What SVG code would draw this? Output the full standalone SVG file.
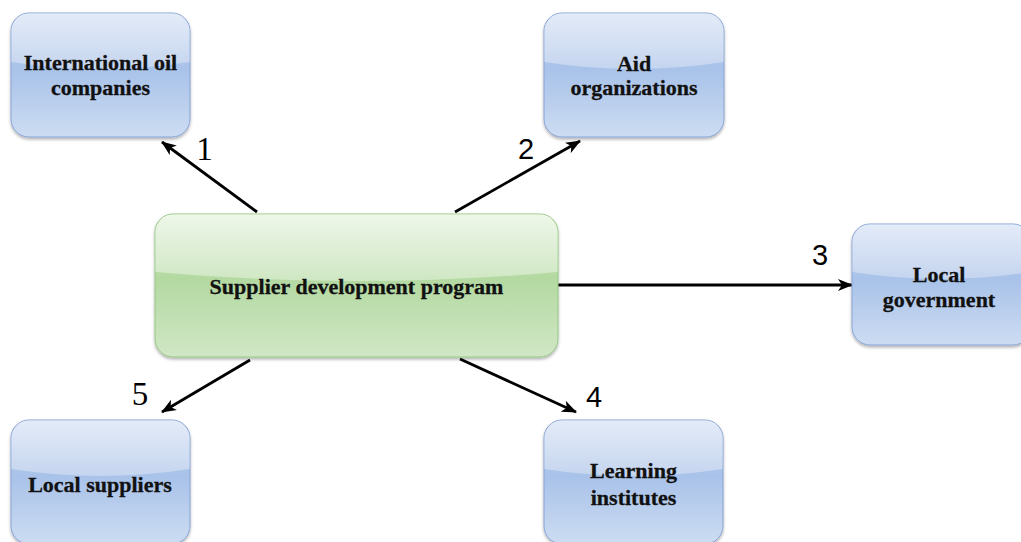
<svg xmlns="http://www.w3.org/2000/svg" width="1021" height="542" viewBox="0 0 1021 542">
<defs>
<linearGradient id="blueBase" x1="0" y1="0" x2="0" y2="1">
<stop offset="0" stop-color="#c9d8f0"/>
<stop offset="0.45" stop-color="#a8c2e9"/>
<stop offset="1" stop-color="#cddcf2"/>
</linearGradient>
<linearGradient id="blueGloss" x1="0" y1="0" x2="0" y2="1">
<stop offset="0" stop-color="#e3ebf8"/>
<stop offset="1" stop-color="#c5d5ef"/>
</linearGradient>
<linearGradient id="greenBase" x1="0" y1="0" x2="0" y2="1">
<stop offset="0" stop-color="#cfe6c3"/>
<stop offset="0.45" stop-color="#b3d9a1"/>
<stop offset="1" stop-color="#d0e7c5"/>
</linearGradient>
<linearGradient id="greenGloss" x1="0" y1="0" x2="0" y2="1">
<stop offset="0" stop-color="#eef7e9"/>
<stop offset="1" stop-color="#cfe7c3"/>
</linearGradient>
<filter id="shadow" x="-10%" y="-10%" width="120%" height="130%">
<feDropShadow dx="0" dy="2" stdDeviation="1.5" flood-color="#000" flood-opacity="0.3"/>
</filter>
<marker id="arrow" viewBox="0 0 15 12" refX="14" refY="6" markerWidth="15" markerHeight="12" markerUnits="userSpaceOnUse" orient="auto">
<path d="M0,0 L15,6 L0,12 L4,6 z" fill="#000"/>
</marker>
</defs>
<style>
.blue{fill:url(#blueBase);stroke:#86a3d4;stroke-width:1;filter:url(#shadow)}
.green{fill:url(#greenBase);stroke:#96c584;stroke-width:1;filter:url(#shadow)}
.bg{fill:url(#blueGloss)}
.gg{fill:url(#greenGloss)}
.lbl{font-family:"Liberation Serif","Times New Roman",serif;font-weight:bold;font-size:22px;fill:#111;text-anchor:middle;stroke:#111;stroke-width:0.3}
.num{fill:#000;text-anchor:middle}
.serif{font-family:"Liberation Serif","Times New Roman",serif;font-size:33px}
.sans{font-family:"Liberation Sans",Arial,sans-serif;font-size:29px}
.conn{stroke:#000;stroke-width:2.8;fill:none;marker-end:url(#arrow)}
</style>

<g id="connectors">
<line class="conn" x1="257" y1="212" x2="162" y2="142"/>
<line class="conn" x1="455" y1="212" x2="580" y2="141"/>
<line class="conn" x1="558" y1="285" x2="852" y2="285"/>
<line class="conn" x1="460" y1="359" x2="576" y2="412"/>
<line class="conn" x1="250" y1="360" x2="162" y2="412"/>
<text class="num serif" x="204.5" y="160">1</text>
<text class="num sans" x="526" y="159">2</text>
<text class="num sans" x="820" y="265">3</text>
<text class="num sans" x="594" y="407">4</text>
<text class="num serif" x="140" y="405">5</text>
</g>

<g id="node-international">
<rect class="blue" x="11" y="13" width="179" height="124" rx="18"/>
<path class="bg" d="M29,13.5 H172 A17.5,17.5 0 0 1 189.5,31 V62 Q100.5,76 11.5,62 V31 A17.5,17.5 0 0 1 29,13.5 z"/>
<text class="lbl" x="100.5" y="70">International oil</text>
<text class="lbl" x="100.5" y="95">companies</text>
</g>

<g id="node-aid">
<rect class="blue" x="544" y="13" width="180" height="124" rx="18"/>
<path class="bg" d="M562,13.5 H706 A17.5,17.5 0 0 1 723.5,31 V62 Q634,76 544.5,62 V31 A17.5,17.5 0 0 1 562,13.5 z"/>
<text class="lbl" x="634" y="71">Aid</text>
<text class="lbl" x="634" y="95">organizations</text>
</g>

<g id="node-center">
<rect class="green" x="155" y="214" width="403" height="143" rx="18"/>
<path class="gg" d="M173,214.5 H540 A17.5,17.5 0 0 1 557.5,232 V272 Q356.5,290 155.5,272 V232 A17.5,17.5 0 0 1 173,214.5 z"/>
<text class="lbl" x="356.5" y="294">Supplier development program</text>
</g>

<g id="node-government">
<rect class="blue" x="852" y="224" width="179" height="121" rx="18"/>
<path class="bg" d="M870,224.5 H1013 A17.5,17.5 0 0 1 1030.5,242 V272 Q941.5,286 852.5,272 V242 A17.5,17.5 0 0 1 870,224.5 z"/>
<text class="lbl" x="939" y="282">Local</text>
<text class="lbl" x="939" y="307">government</text>
</g>

<g id="node-suppliers">
<rect class="blue" x="11" y="420" width="179" height="124" rx="18"/>
<path class="bg" d="M29,420.5 H172 A17.5,17.5 0 0 1 189.5,438 V469 Q100.5,483 11.5,469 V438 A17.5,17.5 0 0 1 29,420.5 z"/>
<text class="lbl" x="100" y="492">Local suppliers</text>
</g>

<g id="node-learning">
<rect class="blue" x="544" y="420" width="179" height="124" rx="18"/>
<path class="bg" d="M562,420.5 H705 A17.5,17.5 0 0 1 722.5,438 V469 Q633.5,483 544.5,469 V438 A17.5,17.5 0 0 1 562,420.5 z"/>
<text class="lbl" x="633.5" y="478">Learning</text>
<text class="lbl" x="633.5" y="505">institutes</text>
</g>
</svg>
